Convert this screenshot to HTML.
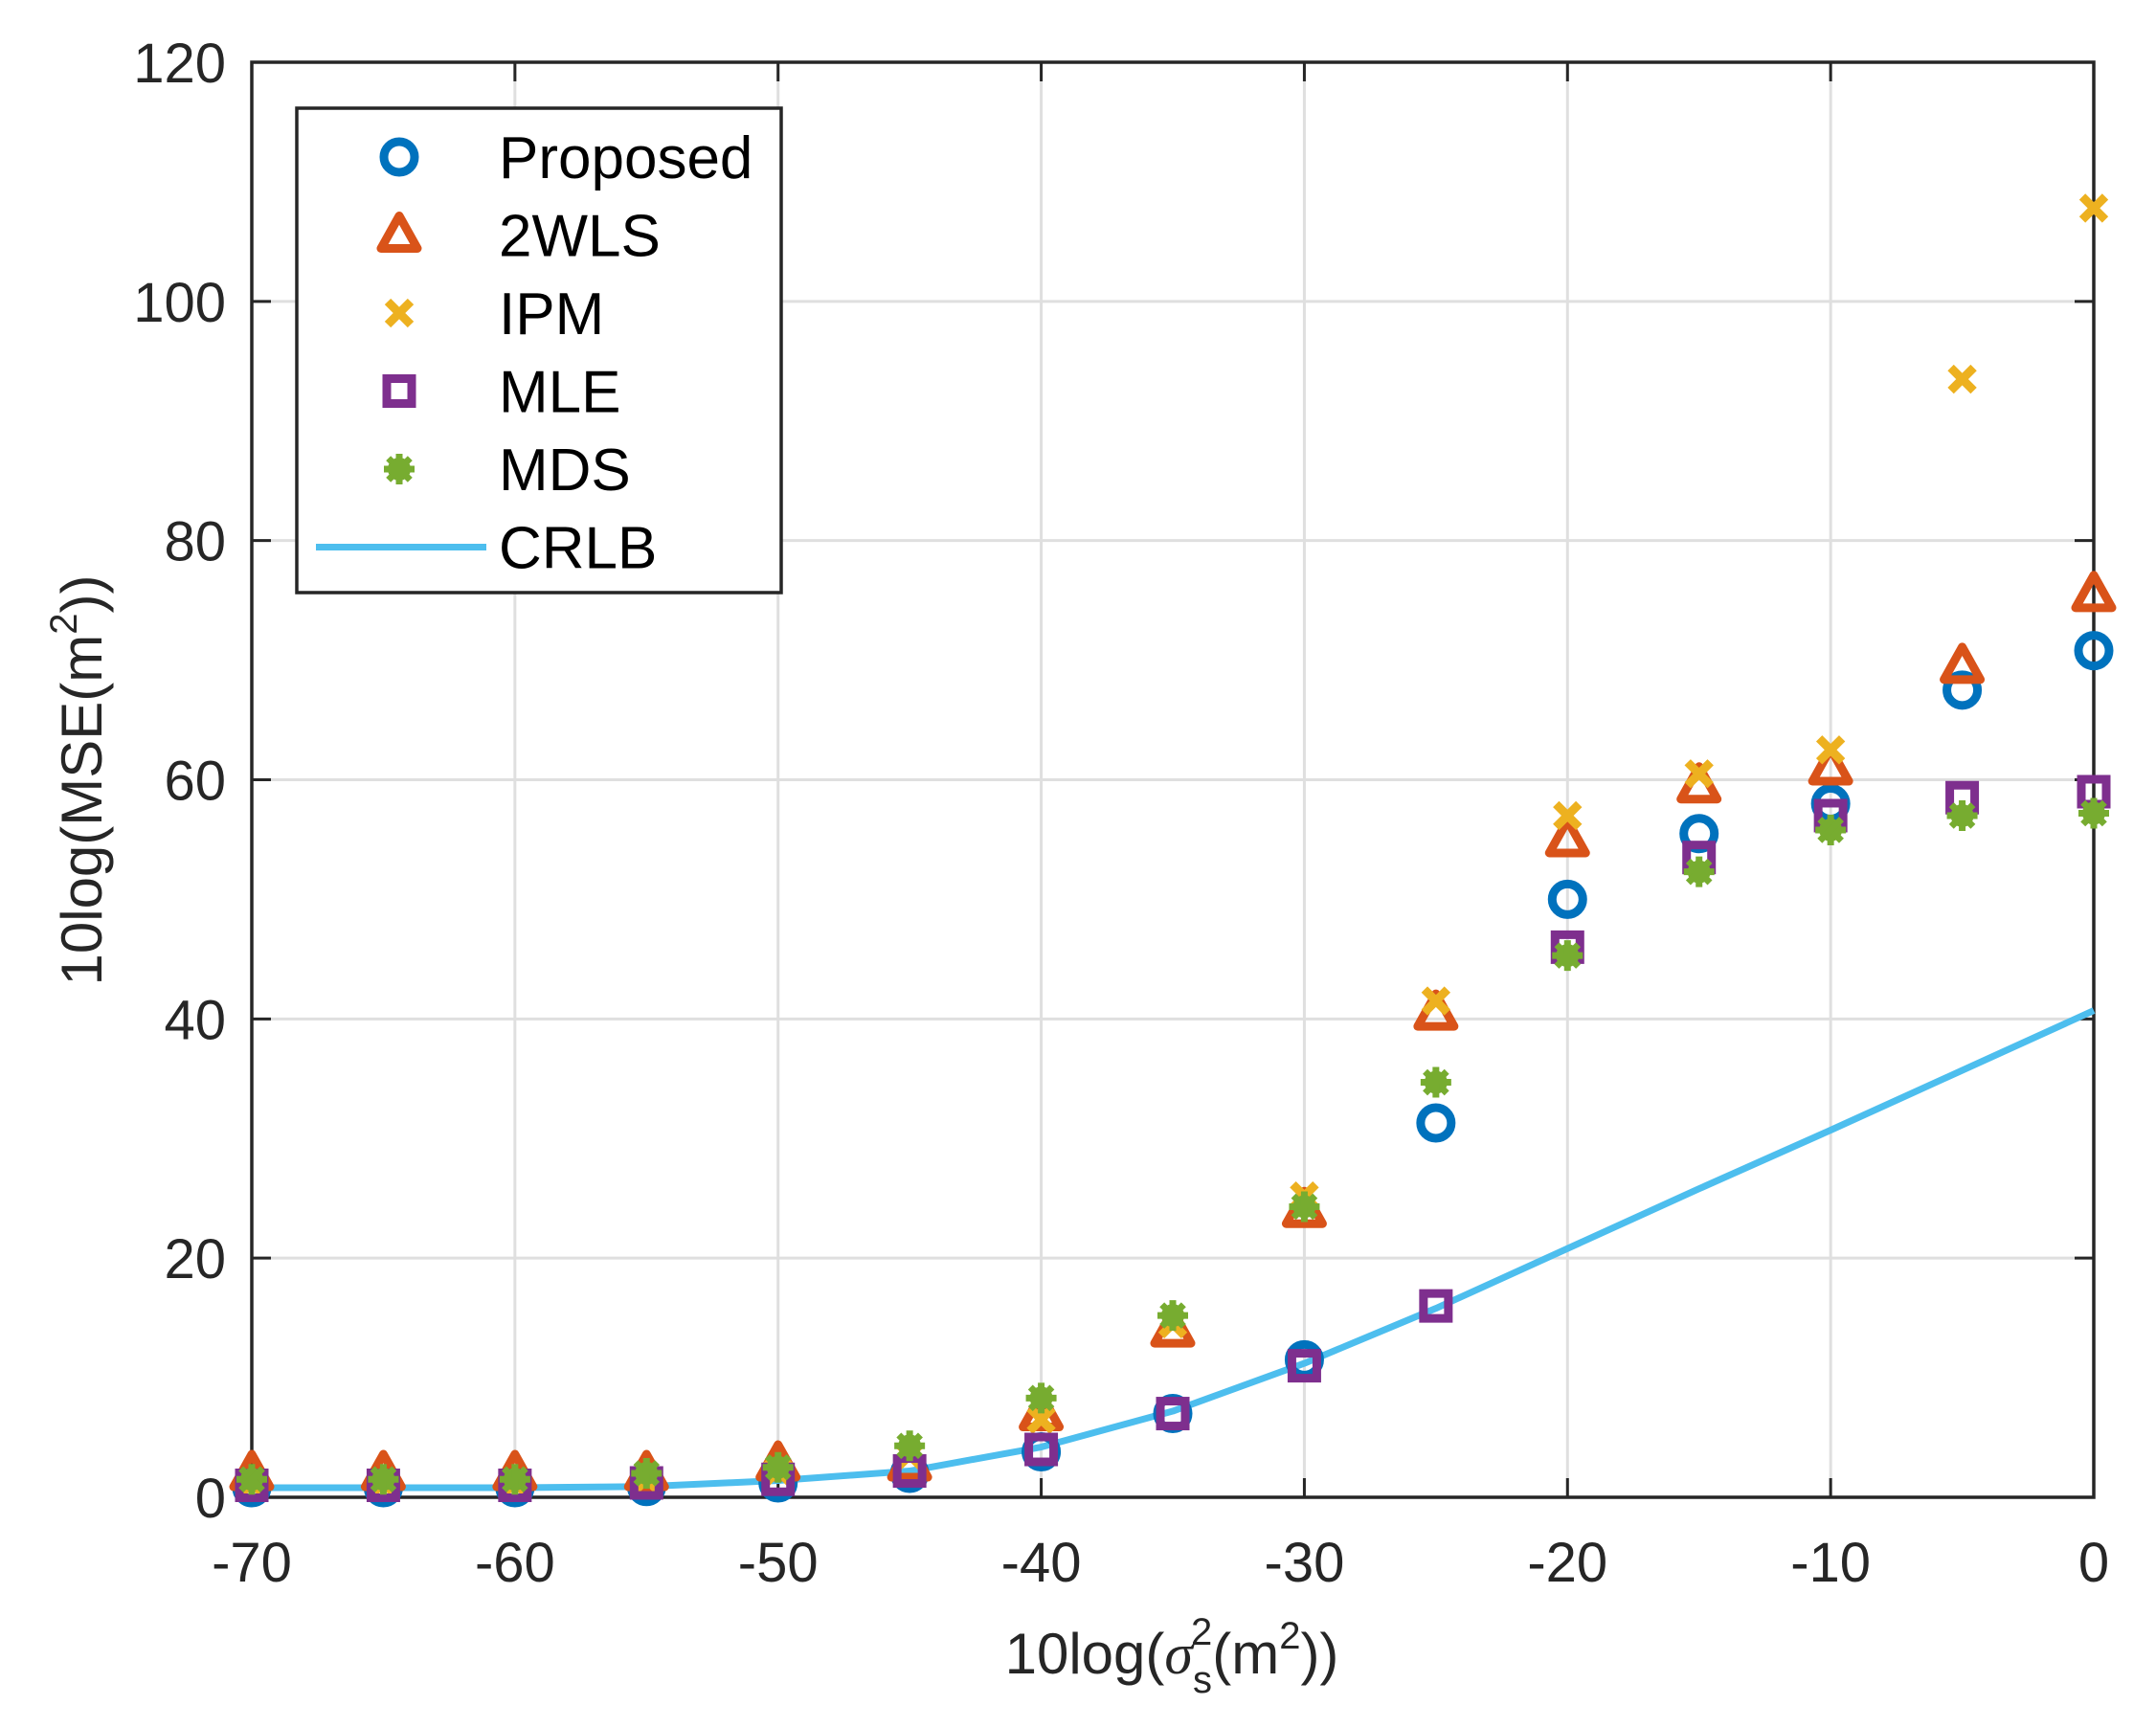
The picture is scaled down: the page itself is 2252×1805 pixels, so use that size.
<!DOCTYPE html>
<html><head><meta charset="utf-8"><style>
html,body{margin:0;padding:0;background:#fff;}
svg{display:block;font-family:"Liberation Sans",sans-serif;}
</style></head><body>
<svg id="chart" width="2252" height="1805" viewBox="0 0 2252 1805">
<g id="grid"></g>
<g id="axes"></g>
<g id="series"></g>
<g id="legend"></g>
</svg>
<script>
const xValues=[-70,-65,-60,-55,-50,-45,-40,-35,-30,-25,-20,-15,-10,-5,0];
const proposed=[0.8,0.8,0.8,0.9,1.2,2,3.8,7,11.5,31.3,50,55.5,58,67.5,70.8];
const twoWLS=[2,2,2,2,2.8,2.8,7,14,24,40.5,55,59.5,61,69.5,75.5];
const ipm=[1.2,1.2,1.2,1.5,2.2,3.5,6.5,14.5,25.2,41.5,57,60.5,62.5,93.5,107.8];
const mle=[1,1,1,1.2,1.5,2.2,4,7,11,16,46,53.5,57,58.5,59];
const mds=[1.5,1.5,1.5,2,2.5,4.3,8.3,15.2,24.3,34.7,45.3,52.3,55.8,57,57.2];
const crlb=[0.8,0.8,0.8,0.9,1.4,2.2,4.2,7.2,11.2,15.8,20.8,25.8,30.7,35.7,40.7];
const xTicks=[-70,-60,-50,-40,-30,-20,-10,0];
const yTicks=[0,20,40,60,80,100,120];

const NS='http://www.w3.org/2000/svg';
const L=263,R=2187,T=65,B=1564;
const sx=v=>L+(v+70)/70*(R-L);
const sy=v=>B-v/120*(B-T);
function mk(tag,attrs,parent){const e=document.createElementNS(NS,tag);for(const k in attrs)e.setAttribute(k,attrs[k]);parent.appendChild(e);return e;}
const grid=document.getElementById('grid'),axes=document.getElementById('axes'),series=document.getElementById('series'),legend=document.getElementById('legend');

xTicks.forEach(t=>{
  const g=mk('line',{x1:sx(t),x2:sx(t),y1:T,y2:B,stroke:'#dfdfdf','stroke-width':3},grid);
  
  
  mk('line',{x1:sx(t),x2:sx(t),y1:B,y2:B-20,stroke:'#262626','stroke-width':3},axes);
  mk('line',{x1:sx(t),x2:sx(t),y1:T,y2:T+20,stroke:'#262626','stroke-width':3},axes);
  const tx=mk('text',{x:sx(t),y:1652,'font-size':58,'text-anchor':'middle',fill:'#262626'},axes);
  tx.textContent=t;
  
  
});
yTicks.forEach(t=>{
  const g=mk('line',{x1:L,x2:R,y1:sy(t),y2:sy(t),stroke:'#dfdfdf','stroke-width':3},grid);
  
  
  mk('line',{x1:L,x2:L+20,y1:sy(t),y2:sy(t),stroke:'#262626','stroke-width':3},axes);
  mk('line',{x1:R,x2:R-20,y1:sy(t),y2:sy(t),stroke:'#262626','stroke-width':3},axes);
  const tx=mk('text',{x:236,y:sy(t)+21,'font-size':58,'text-anchor':'end',fill:'#262626'},axes);
  tx.textContent=t;
  
  
});
const box=mk('rect',{x:L,y:T,width:R-L,height:B-T,fill:'none',stroke:'#262626','stroke-width':3.5},axes);



const xt=mk('text',{x:1224,y:1748,'font-size':60,'text-anchor':'middle',fill:'#262626'},axes);
xt.innerHTML='10log(<tspan font-style="italic" font-family="Liberation Serif">σ</tspan><tspan font-size="40" dy="20">s</tspan><tspan font-size="40" dx="-22" dy="-50">2</tspan><tspan dy="30">(m</tspan><tspan font-size="40" dy="-26">2</tspan><tspan dy="26">))</tspan>';


const yt=mk('text',{x:0,y:0,'font-size':60,'text-anchor':'middle',fill:'#262626',transform:'translate(106,815) rotate(-90)'},axes);
yt.innerHTML='10log(MSE(m<tspan font-size="40" dy="-26">2</tspan><tspan dy="26">))</tspan>';



const C={p:'#0072bd',w:'#d95319',i:'#edb120',m:'#7e2f8e',d:'#77ac30',c:'#4dbeee'};
function marker(type,x,y,parent){
  let e;
  if(type==='p') e=mk('circle',{cx:x,cy:y,r:16,fill:'none',stroke:C.p,'stroke-width':9},parent);
  else if(type==='w') e=mk('polygon',{points:`${x},${y-20} ${x-19},${y+14} ${x+19},${y+14}`,fill:'none',stroke:C.w,'stroke-width':9,'stroke-linejoin':'round'},parent);
  else if(type==='i') e=mk('path',{d:`M${x-12},${y-12}L${x+12},${y+12}M${x+12},${y-12}L${x-12},${y+12}`,stroke:C.i,'stroke-width':9},parent);
  else if(type==='m') e=mk('rect',{x:x-13,y:y-13,width:26,height:26,fill:'none',stroke:C.m,'stroke-width':9},parent);
  else { e=mk('g',{},parent);
    mk('circle',{cx:x,cy:y,r:12,fill:C.d},e);
    for(let a=0;a<4;a++){const r=a*Math.PI/4;mk('line',{x1:x-16*Math.cos(r),y1:y-16*Math.sin(r),x2:x+16*Math.cos(r),y2:y+16*Math.sin(r),stroke:C.d,'stroke-width':7},e);} }
  return e;
}
let d='';crlb.forEach((v,i)=>{d+=(i?'L':'M')+sx(xValues[i])+','+sy(v);});
const cl=mk('path',{d:d,fill:'none',stroke:C.c,'stroke-width':7,'stroke-linejoin':'round'},series);


const sets=[['p',proposed,'proposed-point'],['w',twoWLS,'2wls-point'],['i',ipm,'ipm-point'],['m',mle,'mle-point'],['d',mds,'mds-point']];
sets.forEach(([t,arr,name])=>{arr.forEach((v,i)=>{
  const e=marker(t,sx(xValues[i]),sy(v),series);
  
  
});});

const lb=mk('rect',{x:310,y:113,width:506,height:506,fill:'#fff',stroke:'#262626','stroke-width':3.5},legend);


const labels=['Proposed','2WLS','IPM','MLE','MDS','CRLB'];
const types=['p','w','i','m','d','c'];
labels.forEach((lab,i)=>{
  const y=164+i*81.5;
  const g=mk('g',{},legend);
  
  
  if(types[i]==='c') mk('line',{x1:330,x2:508,y1:y,y2:y,stroke:C.c,'stroke-width':7},g);
  else marker(types[i],417,y,g);
  const tx=mk('text',{x:521,y:y+22,'font-size':62,fill:'#000'},g);
  tx.textContent=lab;
});
</script>
</body></html>
